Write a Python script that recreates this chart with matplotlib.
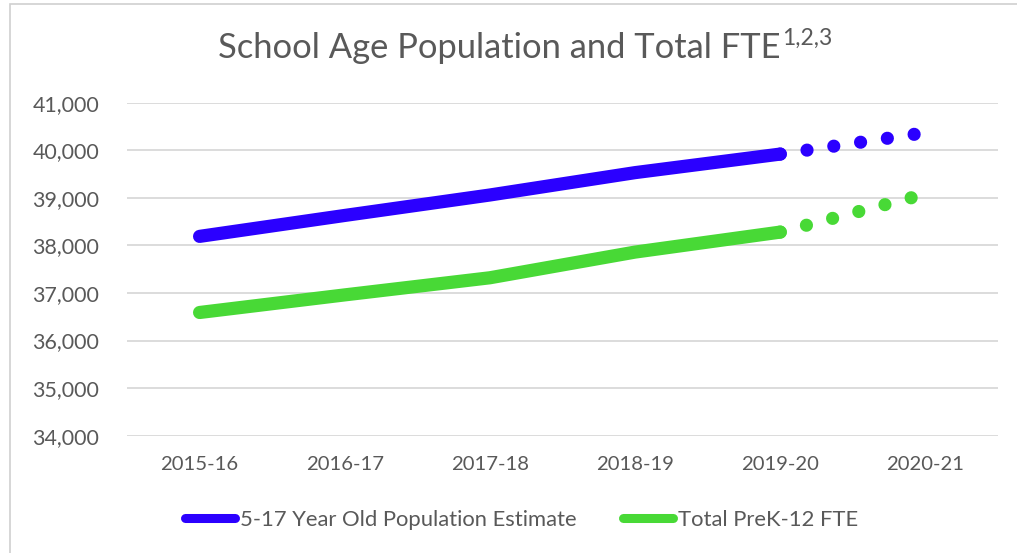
import matplotlib
matplotlib.use("Agg")
import matplotlib.pyplot as plt
from matplotlib.patches import Rectangle
from matplotlib.font_manager import FontProperties

# ---- data ----
years = ["2015-16", "2016-17", "2017-18", "2018-19", "2019-20", "2020-21"]
pop_actual = [38190, 38630, 39060, 39530, 39920]
pop_projected = [39920, 40370]
fte_actual = [36590, 36960, 37320, 37860, 38280]
fte_projected = [38280, 39080]
yticks = [34000, 35000, 36000, 37000, 38000, 39000, 40000, 41000]
series_names = ["5-17 Year Old Population Estimate", "Total PreK-12 FTE"]
title_main = "School Age Population and Total FTE"
title_sup = "1,2,3"

BLUE = "#2B00FF"
GREEN = "#48D936"
TXT = "#595959"
GRID = "#D9D9D9"
FAM = "Lato"

plt.rcParams["font.family"] = [FAM, "DejaVu Sans"]

W, H = 1017, 553
fig = plt.figure(figsize=(W / 100, H / 100), dpi=100)
renderer = fig.canvas.get_renderer()


def fit(text, target_px, base=12.0):
    w, h, d = renderer.get_text_width_height_descent(text, FontProperties(family=FAM, size=base), ismath=False)
    return base * target_px / w


ytick_fs = fit("41,000", 66.6)
xtick_fs = fit("2015-16", 77.6)
leg_fs = fit(series_names[0], 335)
title_fs = fit(title_main, 562)
sup_fs = fit(title_sup, 50)

ax = fig.add_axes([127 / W, 1 - 435.7 / H, (998 - 127) / W, (435.7 - 102.7) / H])

x_act = list(range(len(pop_actual)))
x_proj = [len(pop_actual) - 1, len(years) - 1]
lw = 9.5
ax.plot(x_act, pop_actual, color=BLUE, lw=lw, solid_capstyle="round", solid_joinstyle="round", zorder=3)
ax.plot(x_act, fte_actual, color=GREEN, lw=lw, solid_capstyle="round", solid_joinstyle="round", zorder=3)
ax.plot(x_proj, pop_projected, color=BLUE, lw=lw, linestyle=(0, (0.001, 2.05)),
        dash_capstyle="round", zorder=3)
ax.plot(x_proj, fte_projected, color=GREEN, lw=lw, linestyle=(0, (0.001, 2.05)),
        dash_capstyle="round", zorder=3)

ax.set_xlim(-0.5, len(years) - 0.5)
ax.set_ylim(34000, 41000)
ax.set_yticks(yticks)
ax.set_yticklabels([f"{v:,}" for v in yticks])
ax.set_xticks(range(len(years)))
ax.set_xticklabels(years)
ax.grid(axis="y", color=GRID, lw=1.3)
ax.set_axisbelow(True)
for s in ax.spines.values():
    s.set_visible(False)
ax.tick_params(axis="both", length=0, colors=TXT)
ax.tick_params(axis="y", pad=28 * 0.72, labelsize=ytick_fs)
ax.tick_params(axis="x", pad=20 * 0.72, labelsize=xtick_fs)

# title with superscript
t_left = 218
fig.text(t_left / W, 1 - 48 / H, title_main, ha="left", va="center", fontsize=title_fs, color=TXT)
fig.text((t_left + 562 + 2) / W, 1 - 38 / H, title_sup, ha="left", va="center", fontsize=sup_fs, color=TXT)

h1, = ax.plot([], [], color=BLUE, lw=6.5, solid_capstyle="round")
h2, = ax.plot([], [], color=GREEN, lw=6.5, solid_capstyle="round")
fs_px = leg_fs / 72 * 100
fig.legend([h1, h2], series_names, loc="center", bbox_to_anchor=(521.5 / W, 1 - 520 / H),
           ncol=2, frameon=False, fontsize=leg_fs, labelcolor=TXT, handlelength=50 / fs_px,
           handletextpad=5 / fs_px, columnspacing=47 / fs_px, borderpad=0, borderaxespad=0)

fig.patches.append(Rectangle((10 / W, -0.1), 1.2, 1 - 4 / H + 0.1, transform=fig.transFigure,
                             fill=False, edgecolor="#D0D0D0", lw=1.2))

fig.savefig("out.png", dpi=100, facecolor="white")
